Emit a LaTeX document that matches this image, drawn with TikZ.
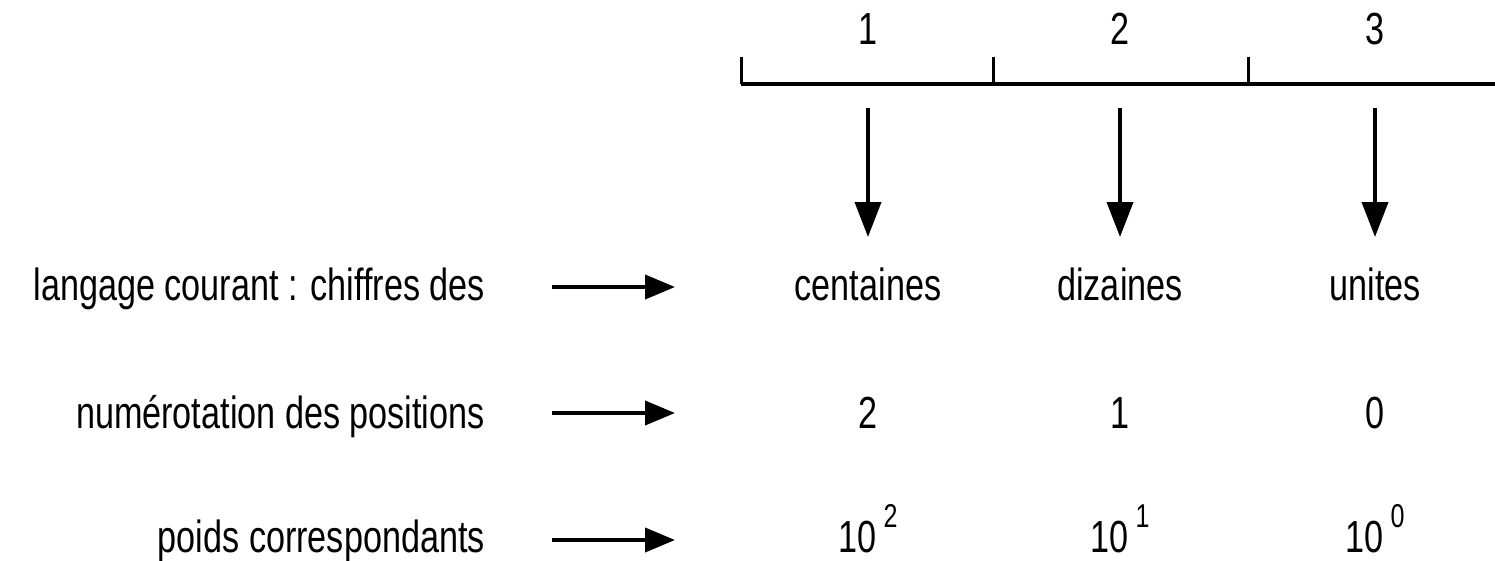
\documentclass[tikz,border=0pt]{standalone}
\usepackage{fontspec}
\setmainfont{Liberation Sans}[FakeStretch=0.76]
\usetikzlibrary{arrows.meta}

\newcommand{\pw}[1]{10\hspace{7pt}\raisebox{25pt}[0pt][0pt]{\fontsize{33}{34}\selectfont #1}}

\begin{document}
\begin{tikzpicture}[x=1pt,y=-1pt,
  txt/.style={inner sep=0pt,anchor=base,font=\fontsize{45}{50}\selectfont},
  lefttxt/.style={txt,anchor=base east},
  ruler/.style={line width=4pt},
  tick/.style={line width=3pt},
  downarrow/.style={line width=3.8pt,-{Triangle[length=35pt,width=26pt]}},
  rowarrow/.style={line width=4pt,-{Triangle[length=30pt,width=24pt]}}]
\useasboundingbox (0,0) rectangle (1495,560);

% position numbers above the ruler
\node[txt] (n1) at (868,44) {1};
\node[txt] (n2) at (1120,44) {2};
\node[txt] (n3) at (1375,44) {3};

% ruler with its ticks
\coordinate (r0) at (741,84);
\coordinate (r3) at (1495,84);
\coordinate (k0) at (741,57);
\coordinate (k1) at (993,57);
\coordinate (k2) at (1248,57);
\coordinate (b1) at (993,84);
\coordinate (b2) at (1248,84);
\draw[ruler] (r0) -- (r3);
\draw[tick] (k0) -- (r0);
\draw[tick] (k1) -- (b1);
\draw[tick] (k2) -- (b2);

% row labels on the left
\node[lefttxt] (l1) at (485,300) {langage courant : chiffres des};
\node[lefttxt] (l2) at (485,428) {numérotation des positions};
\node[lefttxt] (l3) at (485,552) {poids correspondants};

% column entries
\node[txt] (c1) at (868,300) {centaines};
\node[txt] (c2) at (1120,300) {dizaines};
\node[txt] (c3) at (1375,300) {unites};
\node[txt] (p1) at (868,428) {2};
\node[txt] (p2) at (1120,428) {1};
\node[txt] (p3) at (1375,428) {0};
\node[txt] (w1) at (868,552) {\pw{2}};
\node[txt] (w2) at (1120,552) {\pw{1}};
\node[txt] (w3) at (1375,552) {\pw{0}};

% downward arrows from the ruler to the column names
\coordinate (d1s) at (868,108);
\coordinate (d2s) at (1120,108);
\coordinate (d3s) at (1375,108);
\coordinate (d1e) at (868,237);
\coordinate (d2e) at (1120,237);
\coordinate (d3e) at (1375,237);
\draw[downarrow] (d1s) -- (d1e);
\draw[downarrow] (d2s) -- (d2e);
\draw[downarrow] (d3s) -- (d3e);

% arrows from the row labels
\coordinate (a1s) at (552,287);
\coordinate (a1e) at (675,287);
\coordinate (a2s) at (552,413);
\coordinate (a2e) at (675,413);
\coordinate (a3s) at (552,540);
\coordinate (a3e) at (675,540);
\draw[rowarrow] (a1s) -- (a1e);
\draw[rowarrow] (a2s) -- (a2e);
\draw[rowarrow] (a3s) -- (a3e);
\end{tikzpicture}
\end{document}
